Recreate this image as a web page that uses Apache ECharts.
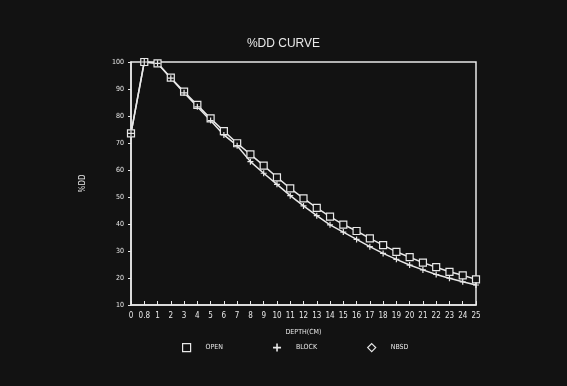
<!DOCTYPE html>
<html>
<head>
<meta charset="utf-8">
<script src="https://cdn.jsdelivr.net/npm/echarts@6/dist/echarts.min.js"></script>
<style>
html, body { margin: 0; padding: 0; background: #121212; }
#chart { width: 567px; height: 386px; }
</style>
</head>
<body>
<div id="chart"></div>
<script>
// depth categories (cm) and percentage depth dose readings
const depths = ['0', '0.8', '1', '2', '3', '4', '5', '6', '7', '8', '9', '10', '11', '12', '13',
	'14', '15', '16', '17', '18', '19', '20', '21', '22', '23', '24', '25']
const openDose = [73.6, 100, 99.5, 94.2, 89.0, 84.1, 79.1, 74.4, 69.9, 65.8, 61.6, 57.3, 53.2, 49.5, 46.0,
	42.7, 39.8, 37.4, 34.7, 32.2, 29.7, 27.7, 25.7, 24.0, 22.3, 21.0, 19.5]
const blockDose = [73.6, 100, 99.5, 94.0, 88.6, 83.4, 78.3, 73.0, 69.0, 63.1, 58.8, 54.7, 50.5, 46.7, 43.1,
	39.7, 37.0, 34.3, 31.6, 29.1, 26.9, 24.8, 23.0, 21.3, 19.9, 18.6, 17.4]
const nbsdDose = []
const yTicks = [10, 100, 10] // min, max, step

const plus = 'path://M4 0h2v4h4v2h-4v4h-2v-4h-4v-2h4z'
const fg = '#e8e8e8'
const bg = '#121212'

const chart = echarts.init(document.getElementById('chart'))
chart.setOption({
	backgroundColor: bg,
	animation: false,
	title: {
		text: '%DD CURVE',
		left: 'center',
		top: 33,
		textStyle: { color: fg, fontSize: 12, fontWeight: 'normal', fontFamily: 'Liberation Sans' }
	},
	grid: {
		left: 131, right: 91, top: 62, bottom: 81,
		show: true, borderColor: fg, borderWidth: 1.5
	},
	legend: {
		left: 177, top: 338,
		itemGap: 50,
		itemWidth: 8, itemHeight: 8,
		textStyle: { color: fg, fontSize: 7, fontFamily: 'DejaVu Sans Condensed', padding: [0, 0, 0, 10] },
		data: [
			{ name: 'OPEN', icon: 'rect', itemStyle: { color: 'transparent', borderColor: fg, borderWidth: 1.2 } },
			{ name: 'BLOCK', icon: plus, itemStyle: { color: fg, borderWidth: 0 } },
			{ name: 'NBSD', icon: 'diamond', itemStyle: { color: 'transparent', borderColor: fg, borderWidth: 1.2 } }
		]
	},
	xAxis: {
		type: 'category',
		data: depths,
		boundaryGap: false,
		name: 'DEPTH(CM)',
		nameLocation: 'middle',
		nameGap: 24,
		nameTextStyle: { color: fg, fontSize: 7, fontFamily: 'DejaVu Sans Condensed' },
		axisLine: { lineStyle: { color: fg, width: 1.5 } },
		axisTick: { inside: true, length: 4, lineStyle: { color: fg } },
		axisLabel: { color: fg, fontSize: 8, interval: 0, margin: 7, fontFamily: 'DejaVu Sans Condensed' },
		splitLine: { show: false }
	},
	yAxis: {
		type: 'value',
		min: yTicks[0], max: yTicks[1], interval: yTicks[2],
		name: '%DD',
		nameLocation: 'middle',
		nameGap: 44,
		nameRotate: 90,
		nameTextStyle: { color: fg, fontSize: 8, fontFamily: 'DejaVu Sans Condensed' },
		axisLine: { show: true, lineStyle: { color: fg, width: 1.5 } },
		axisTick: { show: true, length: 3, lineStyle: { color: fg } },
		axisLabel: { color: fg, fontSize: 7, margin: 7, fontFamily: 'DejaVu Sans Condensed' },
		splitLine: { show: false }
	},
	series: [
		{
			name: 'OPEN', type: 'line', data: openDose,
			symbol: 'rect', symbolSize: 7,
			lineStyle: { color: fg, width: 1.5 },
			itemStyle: { color: bg, borderColor: fg, borderWidth: 1.2 }
		},
		{
			name: 'BLOCK', type: 'line', data: blockDose,
			symbol: plus, symbolSize: 6,
			lineStyle: { color: fg, width: 1.5 },
			itemStyle: { color: fg, borderWidth: 0 }
		},
		{
			name: 'NBSD', type: 'line', data: nbsdDose,
			symbol: 'diamond', symbolSize: 7,
			lineStyle: { color: fg, width: 1.5 },
			itemStyle: { color: bg, borderColor: fg, borderWidth: 1.2 }
		}
	]
})
</script>
</body>
</html>
